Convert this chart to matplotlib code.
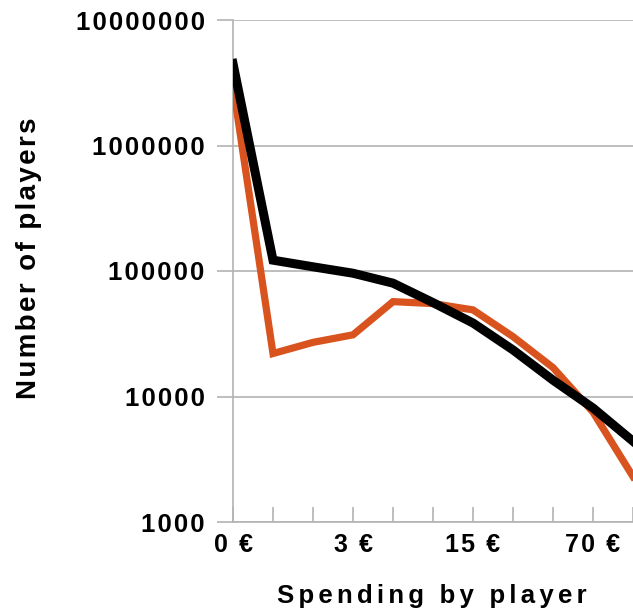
import numpy as np
import matplotlib
matplotlib.use("Agg")
import matplotlib.pyplot as plt
from matplotlib.ticker import FixedLocator, NullLocator

plt.rcParams['font.family'] = ['Liberation Sans', 'DejaVu Sans']

# ---- DATA ----
spend_labels = ["0 €", "", "", "3 €", "", "", "15 €", "", "", "70 €", ""]
players_all = [4500000, 122000, 108000, 96000, 80000, 56000, 38500, 23500, 13500, 8100, 4400]
players_paying = [3000000, 22000, 27000, 31000, 57000, 55000, 49000, 30000, 17000, 7500, 2300]
y_ticks = [1000, 10000, 100000, 1000000, 10000000]

grid_col = "#b3b3b3"


def spaced(s, gap="\u200a"):
    # widen the letter spacing a little
    return gap.join(s)


# ---- PLOT ----
fig = plt.figure(figsize=(6.33, 6.11), dpi=100)
ax = fig.add_axes([233 / 633, 89 / 611, 400 / 633, 502 / 611])

x = np.arange(len(spend_labels))
ax.plot(x, players_paying, color="#d9531e", lw=5.2, solid_joinstyle="miter", zorder=3)
ax.plot(x, players_all, color="black", lw=6.5, solid_joinstyle="miter", zorder=4)

ax.set_yscale("log")
ax.set_ylim(1000, 10000000)
ax.set_xlim(0, 9.87)

ax.yaxis.set_major_locator(FixedLocator(y_ticks))
ax.yaxis.set_minor_locator(NullLocator())
ax.set_yticklabels([spaced(str(v)) for v in y_ticks])

ax.set_xticks(x)
ax.set_xticklabels([spaced(s) for s in spend_labels])

ax.grid(axis="y", color=grid_col, lw=1.2)
ax.set_axisbelow(True)
for s in ["top", "right"]:
    ax.spines[s].set_visible(False)
for s in ["left", "bottom"]:
    ax.spines[s].set_color(grid_col)
    ax.spines[s].set_linewidth(1.2)

ax.tick_params(axis="y", direction="out", length=11.5, width=1.2, color=grid_col,
               pad=9, labelsize=18.5)
ax.tick_params(axis="x", direction="in", length=11, width=1.2, color=grid_col,
               pad=8, labelsize=18)
for lab in ax.get_xticklabels() + ax.get_yticklabels():
    lab.set_fontweight("bold")

ax.set_ylabel(spaced("Number of players"), fontsize=20, fontweight="bold")
ax.yaxis.set_label_coords(-0.477, 0.526)
ax.set_xlabel(spaced("Spending by player", "\u200a\u200a"), fontsize=18.5, fontweight="bold")
ax.xaxis.set_label_coords(0.497, -0.123)

fig.savefig("out.png", dpi=100)
